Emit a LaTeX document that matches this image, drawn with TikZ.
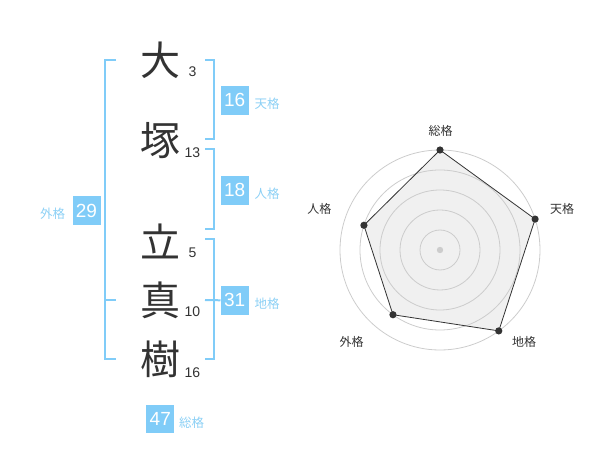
\documentclass[tikz,border=0pt]{standalone}
\usepackage{fontspec}
\setmainfont{Liberation Sans}
\newfontfamily\jp{Noto Sans CJK JP}
\usepackage{tikz}
\usetikzlibrary{positioning,calc}
\definecolor{kblue}{RGB}{128,204,248}
\definecolor{lblue}{RGB}{140,208,245}
\definecolor{ink}{RGB}{51,51,51}
\definecolor{ring}{RGB}{204,204,204}
\definecolor{area}{RGB}{240,240,240}
\tikzset{kanji/.style={inner sep=0pt, text=ink, font=\jp\fontsize{40}{40}\selectfont}}
\tikzset{strokes/.style={inner sep=0pt, text=ink, font=\fontsize{14}{14}\selectfont}}
\tikzstyle{kaku}=[fill=kblue, text=white, minimum width=28pt, minimum height=28.5pt, inner sep=0pt, font=\fontsize{19}{19}\selectfont]
\tikzstyle{kakuname}=[inner sep=0pt, text=lblue, yshift=-3.5pt, font=\jp\fontsize{12.5}{13}\selectfont]
\tikzstyle{bracket}=[draw=kblue, line width=2pt]
\tikzstyle{axisname}=[inner sep=0pt, text=ink, font=\jp\fontsize{12}{13}\selectfont]

\begin{document}
\begin{tikzpicture}[x=1pt, y=-1pt]
\useasboundingbox (0,0) rectangle (600,470);
% name
\node[kanji] (K1) at (160,60) {大};
\node[kanji] (K2) at (160,140.5) {塚};
\node[kanji] (K3) at (160,241.5) {立};
\node[kanji] (K4) at (160,300) {真};
\node[kanji] (K5) at (160,359.5) {樹};
\node[strokes] (N1) at (192.5,72) {3};
\node[strokes] (N2) at (192.5,152.5) {13};
\node[strokes] (N3) at (192.5,252.5) {5};
\node[strokes] (N4) at (192.5,312) {10};
\node[strokes] (N5) at (192.5,372.5) {16};
% brackets
\draw[bracket] (116,60) -- (105,60) -- (105,359.5) -- (116,359.5) (105,300) -- (116,300);
\draw[bracket] (205,60) -- (214.3,60) -- (214.3,139.3) -- (205,139.3);
\draw[bracket] (205,149.3) -- (214.3,149.3) -- (214.3,229.3) -- (205,229.3);
\draw[bracket] (205,239.3) -- (214.3,239.3) -- (214.3,359.3) -- (205,359.3);
% scores
\node[kaku] (Ten) at (234.7,100.3) {16};
\node[kaku] (Jin) at (234.7,190.3) {18};
\node[kaku] (Chi) at (234.7,300.3) {31};
\node[kaku] (Gai) at (86.5,210.5) {29};
\node[kaku] (Sou) at (160.3,419) {47};
\draw[bracket] (205,300) -- (Chi.west);
\node[kakuname, right=5.5pt of Ten] (TenL) {天格};
\node[kakuname, right=5.5pt of Jin] (JinL) {人格};
\node[kakuname, right=5.5pt of Chi] (ChiL) {地格};
\node[kakuname, left=7pt of Gai] (GaiL) {外格};
\node[kakuname, right=4.5pt of Sou] (SouL) {総格};
% radar
\begin{scope}[shift={(440,250)}]
\coordinate (R1) at (90:100pt);
\coordinate (R2) at (18:100pt);
\coordinate (R3) at (-54:100pt);
\coordinate (R4) at (-126:80pt);
\coordinate (R5) at (162:80pt);
\fill[area] (R1) -- (R2) -- (R3) -- (R4) -- (R5) -- cycle;
\foreach \r in {20,40,60,80,100}
  \draw[ring, line width=0.8pt] (0,0) circle (\r pt);
\fill[ring] (0,0) circle (3.2pt);
\draw[ink, line width=0.8pt] (R1) -- (R2) -- (R3) -- (R4) -- (R5) -- cycle;
\foreach \p in {R1,R2,R3,R4,R5}
  \fill[ink] (\p) circle (3.6pt);
\end{scope}
\node[axisname] (A1) at (440.7,130.7) {総格};
\node[axisname] (A2) at (562,209) {天格};
\node[axisname] (A3) at (524,341.7) {地格};
\node[axisname] (A4) at (351.7,341.7) {外格};
\node[axisname] (A5) at (319.3,209) {人格};
\end{tikzpicture}
\end{document}
